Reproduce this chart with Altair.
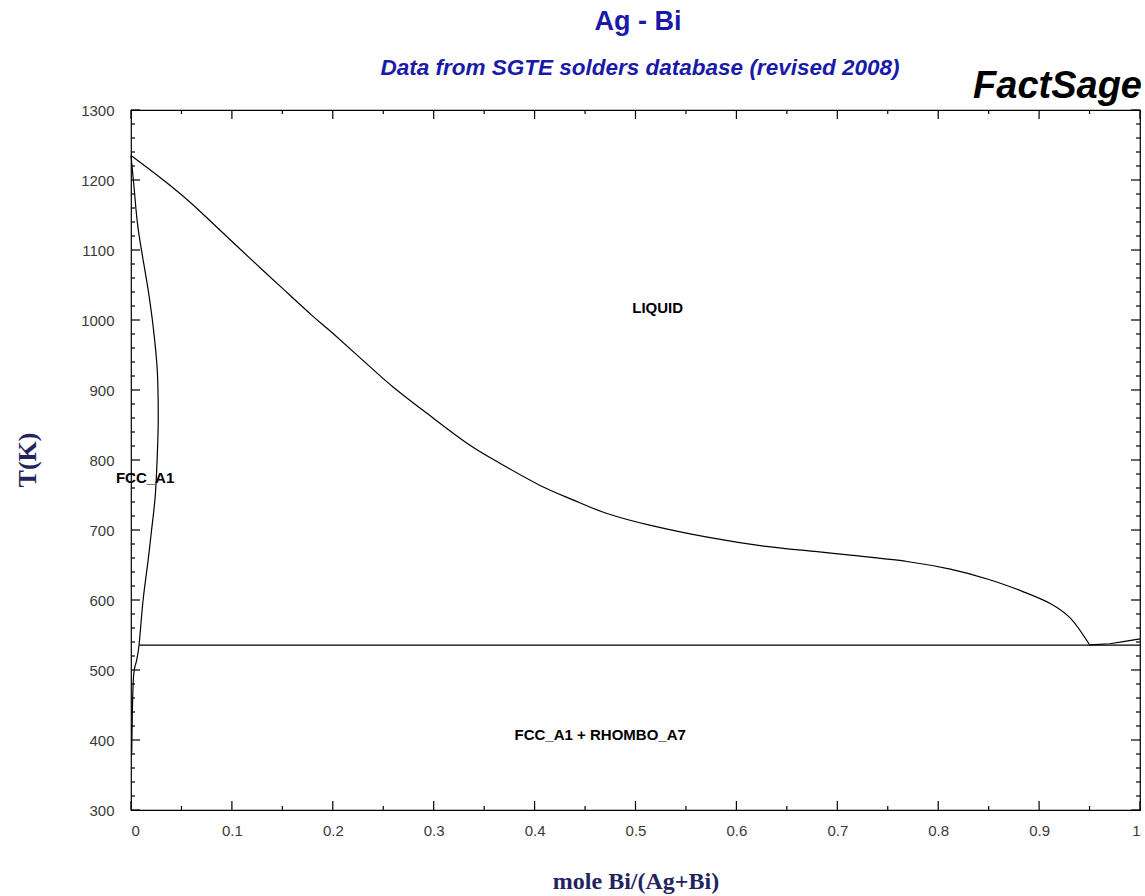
import altair as alt
import pandas as pd

# Liquidus on the Ag-rich side, down to the eutectic
liq_x = [0.0, 0.032, 0.058, 0.087, 0.118, 0.148, 0.179, 0.200, 0.237, 0.260,
         0.293, 0.333, 0.366, 0.405, 0.438, 0.471, 0.514, 0.574, 0.627, 0.680,
         0.713, 0.769, 0.812, 0.851, 0.884, 0.911, 0.931, 0.950]
liq_t = [1235, 1200, 1169, 1130, 1088, 1048, 1007, 981, 933, 904,
         867, 824, 795, 764, 743, 724, 707, 689, 677, 669,
         664, 655, 644, 629, 612, 595, 574, 536]

# Liquidus on the Bi-rich side
bi_liq_x = [0.950, 0.970, 0.985, 1.0]
bi_liq_t = [536, 537.5, 541, 544.5]

# FCC_A1 solidus + solvus
fcc_x = [0.0, 0.003, 0.0072, 0.017, 0.022, 0.026, 0.027, 0.026, 0.024, 0.020,
         0.017, 0.012, 0.008, 0.0056, 0.0023, 0.0007]
fcc_t = [1235, 1190, 1129, 1043, 990, 929, 860, 805, 748, 695,
         657, 600, 536, 514, 486, 380]

# Eutectic isotherm
eut_x = [0.008, 1.0]
eut_t = [535.5, 535.5]

# Phase-field labels
lab_text = ["LIQUID", "FCC_A1", "FCC_A1 + RHOMBO_A7"]
lab_x = [0.522, 0.014, 0.465]
lab_t = [1017, 774, 407]

# Axis ticks
x_major = [round(0.1 * i, 1) for i in range(11)]
x_minor = [round(0.05 + 0.1 * i, 2) for i in range(10)]
y_major = list(range(300, 1301, 100))
y_minor = [v for v in range(300, 1301, 20) if v % 100 != 0]

W, H = 1009, 700
MAJ, MIN = 9, 4

curved = []
for name, xs, ts in [("liq", liq_x, liq_t), ("fcc", fcc_x, fcc_t)]:
    for i, (xv, tv) in enumerate(zip(xs, ts)):
        curved.append({"curve": name, "seq": i, "x": xv, "T": tv})
curved = pd.DataFrame(curved)

straight = []
for name, xs, ts in [("bi_liq", bi_liq_x, bi_liq_t), ("eut", eut_x, eut_t)]:
    for i, (xv, tv) in enumerate(zip(xs, ts)):
        straight.append({"curve": name, "seq": i, "x": xv, "T": tv})
straight = pd.DataFrame(straight)

labels = pd.DataFrame({"label": lab_text, "x": lab_x, "T": lab_t})

xscale = alt.Scale(domain=[0, 1], nice=False, zero=False)
yscale = alt.Scale(domain=[300, 1300], nice=False, zero=False)

SANS = "Liberation Sans"
SERIF = "Liberation Serif"
BLUE = "#1a1aa8"
NAVY = "#23235f"

x_axis = alt.Axis(values=x_major, format="~g", ticks=False, domain=False,
                  grid=False, labelFont=SANS, labelFontSize=15,
                  labelColor="#3a3a3a", labelPadding=13, title="")
y_axis = alt.Axis(values=y_major, format="d", ticks=False, domain=False,
                  grid=False, labelFont=SANS, labelFontSize=15,
                  labelColor="#3a3a3a", labelPadding=17, title="")

X = lambda f: alt.X(f, scale=xscale, axis=x_axis)
Y = lambda f: alt.Y(f, scale=yscale, axis=y_axis)

curves = alt.Chart(curved).mark_line(
    color="black", strokeWidth=1.2, interpolate="cardinal"
).encode(x=X("x:Q"), y=Y("T:Q"), detail="curve:N", order="seq:Q")

lines = alt.Chart(straight).mark_line(color="black", strokeWidth=1.2).encode(
    x=X("x:Q"), y=Y("T:Q"), detail="curve:N", order="seq:Q")


def xticks(vals, length, top):
    df = pd.DataFrame({"v": vals})
    y0, y1 = (0, length) if top else (H, H - length)
    return alt.Chart(df).mark_rule(color="black", strokeWidth=1.2).encode(
        x=X("v:Q"), y=alt.value(y0), y2=alt.value(y1))


def yticks(vals, length, right):
    df = pd.DataFrame({"v": vals})
    x0, x1 = (W, W - length) if right else (0, length)
    return alt.Chart(df).mark_rule(color="black", strokeWidth=1.2).encode(
        y=Y("v:Q"), x=alt.value(x0), x2=alt.value(x1))


tick_layers = [
    xticks(x_major, MAJ, False), xticks(x_minor, MIN, False),
    xticks(x_major, MAJ, True), xticks(x_minor, MIN, True),
    yticks(y_major, MAJ, False), yticks(y_minor, MIN, False),
    yticks(y_major, MAJ, True), yticks(y_minor, MIN, True),
]

region_text = alt.Chart(labels).mark_text(
    font=SANS, fontSize=15, fontWeight="bold", color="black"
).encode(x=X("x:Q"), y=Y("T:Q"), text="label:N")


def note(text, x, y, **kw):
    return alt.Chart(pd.DataFrame({"t": [text]})).mark_text(**kw).encode(
        x=alt.value(x), y=alt.value(y), text="t:N")


title = note("Ag - Bi", 507, -88, font=SANS, fontSize=27, fontWeight="bold",
             color=BLUE, align="center", baseline="middle")
subtitle = note("Data from SGTE solders database (revised 2008)", 509, -42,
                font=SANS, fontSize=22.5, fontWeight="bold", fontStyle="italic",
                color=BLUE, align="center", baseline="middle")
brand = note("FactSage", W + 2, -12, font=SANS, fontSize=38, fontWeight="bold",
             fontStyle="italic", color="black", align="right",
             baseline="alphabetic")
xtitle = note("mole Bi/(Ag+Bi)", 505, 772, font=SERIF, fontSize=24,
              fontWeight="bold", color=NAVY, align="center", baseline="middle")
ytitle = note("T(K)", -103, 350, font=SERIF, fontSize=26, fontWeight="bold",
              color=NAVY, align="center", baseline="middle", angle=270)

chart = alt.layer(
    curves, lines, *tick_layers, region_text,
    title, subtitle, brand, xtitle, ytitle
).properties(
    width=W, height=H,
    autosize=alt.AutoSizeParams(type="none"),
    padding={"left": 131, "top": 110, "right": 5, "bottom": 86},
    background="white",
).configure_view(stroke="black", strokeWidth=1.2)

chart.save("out.html", embed_options={"renderer": "svg", "actions": False})
